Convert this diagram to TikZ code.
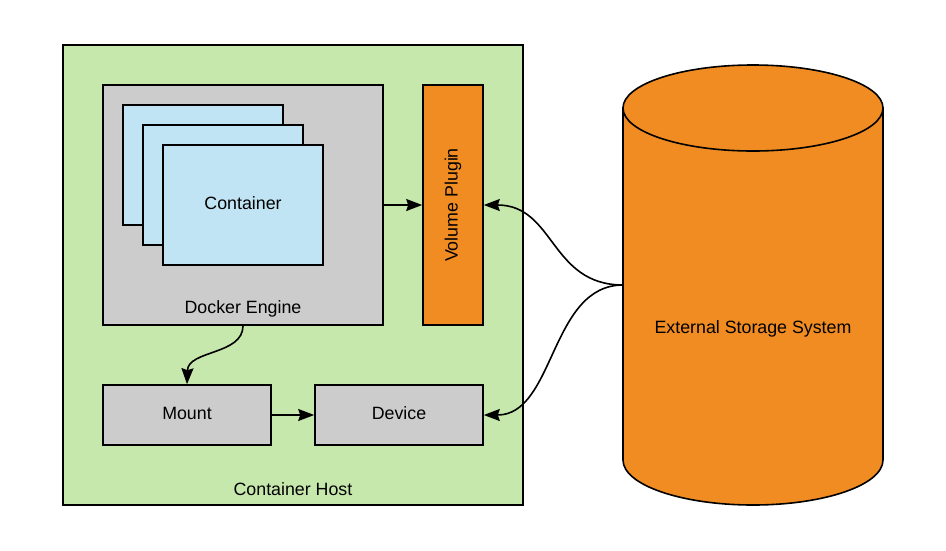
\documentclass[tikz,border=0pt]{standalone}
\usepackage{fontspec}
\setmainfont{Liberation Sans}
\usepackage{tikz}
\usetikzlibrary{arrows.meta,positioning}

\definecolor{hostgreen}{RGB}{199,232,172}
\definecolor{enginegray}{RGB}{204,204,204}
\definecolor{boxblue}{RGB}{193,228,245}
\definecolor{plugorange}{RGB}{240,140,34}

\begin{document}
\begin{tikzpicture}[
    x=1pt, y=-1pt,
    every node/.style={font=\fontsize{17.8}{21}\selectfont},
    box/.style={rectangle, draw=black, line width=1.6pt, inner sep=0pt},
    host/.style={box, fill=hostgreen, minimum width=460pt, minimum height=460pt},
    engine/.style={box, fill=enginegray, minimum width=280pt, minimum height=240pt},
    container/.style={box, fill=boxblue, minimum width=160pt, minimum height=120pt},
    plugin/.style={box, fill=plugorange, minimum width=60pt, minimum height=240pt},
    part/.style={box, fill=enginegray, minimum width=168pt, minimum height=60pt},
    arrow/.style={-{Stealth[length=16pt,width=12pt,inset=2pt]}, line width=1.6pt}
]
    \useasboundingbox (0,0) rectangle (946,550);

    % Host and engine
    \node[host] (host) at (293,275) {};
    \node (hostlabel) at (293,489) {Container Host};
    \node[engine] (engine) at (243,205) {};
    \node (enginelabel) at (243,309) {Docker Engine};

    % Containers
    \node[container] (cont1) at (203,165) {};
    \node[container] (cont2) at (223,185) {};
    \node[container] (cont3) at (243,205) {};
    \node (contlabel) at (243,203) {Container};

    % Plugin, mount and device
    \node[plugin] (plugin) at (453,205) {};
    \node[rotate=90] (pluglabel) at (453,205) {Volume Plugin};
    \node[part] (mount) at (187,415) {};
    \node (mountlabel) at (187,413) {Mount};
    \node[part] (device) at (399,415) {};
    \node (devicelabel) at (399,413) {Device};

    % Storage
    \draw[fill=plugorange, line width=1.6pt] (623,108) -- (623,460)
        arc[start angle=180, end angle=360, x radius=130pt, y radius=45pt]
        -- (883,108) -- cycle;
    \draw[fill=plugorange, line width=1.6pt] (753,108) ellipse [x radius=130pt, y radius=43pt];
    \node (storelabel) at (753,329) {External Storage System};
    \coordinate (store) at (623,285);

    % Arrows
    \draw[arrow] (engine.east |- plugin.west) -- (plugin.west);
    \draw[arrow] (engine.south) .. controls (243,355) and (188,350) .. (mount.north);
    \draw[arrow] (mount) -- (device);
    \draw[arrow] (store) .. controls (550,285) and (555,205) .. (plugin.east);
    \draw[arrow] (store) .. controls (550,285) and (555,415) .. (device.east);
\end{tikzpicture}
\end{document}
